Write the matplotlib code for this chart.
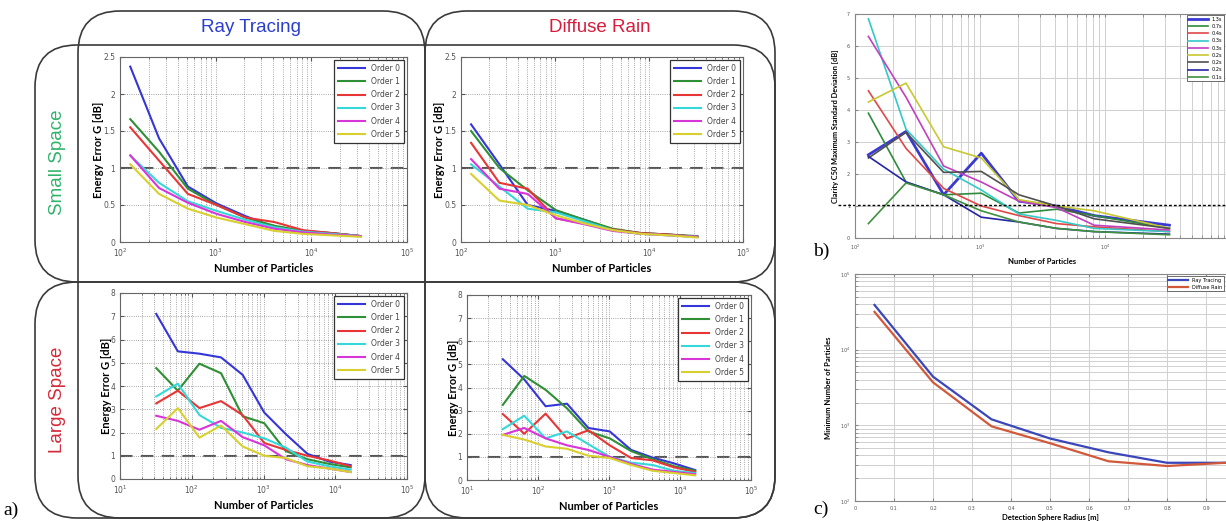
import matplotlib
matplotlib.use("Agg")
import matplotlib.pyplot as plt
from matplotlib.patches import FancyBboxPatch
from matplotlib.ticker import FuncFormatter, LogLocator, MultipleLocator, FixedLocator

# ---------------- data ----------------
orders = ["Order 0", "Order 1", "Order 2", "Order 3", "Order 4", "Order 5"]
order_colors = ["#3535d8", "#2f8f35", "#e83535", "#35d8d8", "#d835d8", "#d8d02e"]

n_small = [128, 256, 512, 1024, 2048, 4096, 8192, 16384, 32768]
n_large = [32, 64, 128, 256, 512, 1024, 2048, 4096, 8192, 16384]

rt_small = [
    [2.37, 1.40, 0.75, 0.52, 0.35, 0.20, 0.15, 0.12, 0.08],
    [1.66, 1.22, 0.72, 0.50, 0.33, 0.22, 0.15, 0.12, 0.08],
    [1.55, 1.10, 0.65, 0.50, 0.33, 0.27, 0.16, 0.12, 0.08],
    [1.17, 0.80, 0.55, 0.42, 0.30, 0.20, 0.14, 0.11, 0.08],
    [1.17, 0.73, 0.53, 0.38, 0.27, 0.18, 0.13, 0.10, 0.08],
    [1.05, 0.65, 0.45, 0.33, 0.24, 0.15, 0.11, 0.09, 0.07],
]
dr_small = [
    [1.59, 1.05, 0.50, 0.42, 0.30, 0.17, 0.12, 0.10, 0.07],
    [1.50, 1.00, 0.70, 0.43, 0.30, 0.18, 0.12, 0.10, 0.08],
    [1.34, 0.80, 0.72, 0.32, 0.25, 0.17, 0.12, 0.10, 0.07],
    [1.05, 0.75, 0.45, 0.40, 0.28, 0.16, 0.11, 0.09, 0.07],
    [1.12, 0.72, 0.65, 0.32, 0.24, 0.15, 0.11, 0.09, 0.07],
    [0.92, 0.56, 0.50, 0.36, 0.25, 0.16, 0.11, 0.09, 0.06],
]
rt_large = [
    [7.10, 5.49, 5.39, 5.23, 4.48, 2.86, 1.93, 1.08, 0.75, 0.60],
    [4.77, 3.80, 4.96, 4.55, 2.70, 2.40, 1.20, 0.85, 0.65, 0.50],
    [3.25, 3.80, 3.05, 3.35, 2.75, 1.55, 1.25, 1.00, 0.80, 0.55],
    [3.55, 4.10, 2.75, 2.20, 2.00, 1.75, 1.35, 0.75, 0.55, 0.40],
    [2.72, 2.50, 2.12, 2.50, 1.80, 1.45, 0.85, 0.60, 0.45, 0.30],
    [2.15, 3.05, 1.78, 2.30, 1.40, 1.00, 0.90, 0.55, 0.45, 0.30],
]
dr_large = [
    [5.22, 4.35, 3.19, 3.30, 2.25, 2.10, 1.30, 0.97, 0.72, 0.43],
    [3.25, 4.50, 3.90, 3.10, 2.10, 1.80, 1.25, 0.90, 0.60, 0.40],
    [2.85, 2.00, 2.87, 1.80, 2.15, 1.50, 0.95, 0.85, 0.55, 0.35],
    [2.20, 2.78, 1.80, 2.10, 1.55, 1.00, 0.75, 0.65, 0.40, 0.30],
    [1.95, 2.25, 1.80, 1.50, 1.30, 1.00, 0.70, 0.45, 0.35, 0.25],
    [1.95, 1.75, 1.45, 1.35, 1.05, 0.95, 0.65, 0.40, 0.30, 0.20],
]

n_clarity = [128, 256, 512, 1024, 2048, 4096, 8192, 32768]
clarity_labels = ["1.3s", "0.7s", "0.4s", "0.3s", "0.3s", "0.2s", "0.2s", "0.2s", "0.1s"]
clarity_colors = ["#3a3ad0", "#2e8b3e", "#e04848", "#35c8c8", "#c040c0",
                  "#c8c830", "#505050", "#2525a5", "#3f8f3f"]
clarity = [
    [2.60, 3.33, 1.35, 2.65, 1.15, 1.00, 0.70, 0.40],
    [3.90, 1.75, 1.35, 1.40, 0.78, 0.90, 0.70, 0.30],
    [4.60, 2.80, 1.55, 1.00, 0.70, 0.45, 0.35, 0.20],
    [6.85, 3.40, 2.15, 1.50, 0.75, 0.55, 0.30, 0.20],
    [6.30, 4.40, 2.25, 1.75, 1.15, 0.95, 0.40, 0.25],
    [4.25, 4.84, 2.85, 2.50, 1.20, 1.00, 0.85, 0.30],
    [2.50, 3.30, 2.05, 2.08, 1.35, 1.00, 0.60, 0.30],
    [2.55, 1.75, 1.35, 0.65, 0.50, 0.30, 0.20, 0.12],
    [0.45, 1.72, 1.35, 0.85, 0.50, 0.30, 0.20, 0.10],
]

radius = [0.05, 0.2, 0.35, 0.5, 0.65, 0.8, 0.95]
min_rt = [39000, 4400, 1200, 670, 440, 320, 320]
min_dr = [31600, 3700, 970, 580, 335, 290, 320]

# ---------------- figure ----------------
W, H = 1226, 521
fig = plt.figure(figsize=(W / 100, H / 100), dpi=100)


def px_axes(x0, y0, x1, y1, **kw):
    return fig.add_axes([x0 / W, 1 - y1 / H, (x1 - x0) / W, (y1 - y0) / H], **kw)


# overlay for boxes and labels
ov = fig.add_axes([0, 0, 1, 1], zorder=-1)
ov.set_xlim(0, W)
ov.set_ylim(H, 0)
ov.axis("off")
box_kw = dict(boxstyle="round,pad=0,rounding_size=42", facecolor="none",
              edgecolor="#3a3a3a", linewidth=1.2)
for (bx, by, bw, bh) in [(78, 11, 347, 507), (425, 11, 350, 507),
                         (35, 45, 740, 237), (35, 282, 740, 236)]:
    ov.add_patch(FancyBboxPatch((bx, by), bw, bh, **box_kw))

ov.text(251, 27, "Ray Tracing", color="#2b3fcc", fontsize=13.5, ha="center", va="center",
        family="Liberation Sans")
ov.text(600, 27, "Diffuse Rain", color="#d81c3e", fontsize=13.5, ha="center", va="center",
        family="Liberation Sans")
ov.text(57, 162, "Small Space", color="#2fb36a", fontsize=13.5, ha="center", va="center",
        rotation=90, family="Liberation Sans")
ov.text(57, 400, "Large Space", color="#d42a3a", fontsize=13.5, ha="center", va="center",
        rotation=90, family="Liberation Sans")
ov.text(3, 510, "a)", fontsize=14, family="Liberation Serif", ha="left", va="center")
ov.text(813, 251, "b)", fontsize=14, family="Liberation Serif", ha="left", va="center")
ov.text(813, 509, "c)", fontsize=14, family="Liberation Serif", ha="left", va="center")

lab_font = dict(family="Lato", fontweight="bold")
gfmt = FuncFormatter(lambda v, p: "{:g}".format(v))


def panel_a(rect, n, data, ymax, xmin):
    ax = px_axes(*rect)
    for vals, lab, col in zip(data, orders, order_colors):
        ax.plot(n, vals, color=col, lw=1.5, label=lab)
    ax.axhline(1.0, color="#555555", ls=(0, (6, 4)), lw=1.5, zorder=1)
    ax.set_xscale("log")
    ax.set_xlim(xmin, 1e5)
    ax.set_ylim(0, ymax)
    ax.yaxis.set_major_formatter(gfmt)
    ax.grid(True, which="both", axis="x", ls=":", color="#8a8a8a", lw=0.6)
    ax.grid(True, which="major", axis="y", ls=":", color="#8a8a8a", lw=0.6)
    ax.tick_params(which="both", direction="in", top=True, right=True,
                   labelsize=5.5, labelcolor="#555555", color="#555555", length=3)
    ax.tick_params(which="minor", length=1.5)
    ax.set_xlabel("Number of Particles", fontsize=8, labelpad=3, **lab_font)
    ax.set_ylabel("Energy Error G [dB]", fontsize=8, labelpad=-1, **lab_font)
    for s in ax.spines.values():
        s.set_color("#666666")
        s.set_linewidth(0.8)
    leg = ax.legend(loc="upper right", fontsize=5.5, handlelength=3.5, labelspacing=0.55,
                    borderpad=0.5, fancybox=False, framealpha=1, borderaxespad=0.4)
    leg.get_frame().set_edgecolor("#333333")
    leg.get_frame().set_linewidth(0.9)
    for t in leg.get_texts():
        t.set_color("#444444")
    return ax


panel_a((120, 57, 407, 242), n_small, rt_small, 2.5, 1e2)
panel_a((461, 57, 743, 242), n_small, dr_small, 2.5, 1e2)
panel_a((120, 293, 407, 479), n_large, rt_large, 8, 1e1)
panel_a((467, 295, 751, 480), n_large, dr_large, 8, 1e1)

# ---------------- panel b ----------------
axb = px_axes(855, 14, 1230, 238)
for i, (vals, lab, col) in enumerate(zip(clarity, clarity_labels, clarity_colors)):
    axb.plot(n_clarity, vals, color=col, lw=2.0 if i == 0 else 1.2, label=lab)
axb.axhline(1.03, xmin=-0.045, xmax=1.0, color="black", ls=(0, (2, 1.5)), lw=1.0,
            clip_on=False)
axb.set_xscale("log")
axb.set_xlim(1e2, 1e5)
axb.set_ylim(0, 7)
axb.xaxis.set_major_locator(FixedLocator([1e2, 1e3, 1e4]))
axb.yaxis.set_major_formatter(gfmt)
axb.grid(True, which="both", axis="x", color="#d0d0d0", lw=0.7)
axb.grid(True, which="major", axis="y", color="#d0d0d0", lw=0.7)
axb.tick_params(which="both", direction="in", top=True, right=True,
                labelsize=3.5, labelcolor="#555555", color="#888888", length=2)
axb.set_xlabel("Number of Particles", fontsize=5.5, labelpad=4, **lab_font)
axb.set_ylabel("Clarity C50 Maximum Standard Deviation [dB]", fontsize=5.3, labelpad=6,
               **lab_font)
for s in axb.spines.values():
    s.set_color("#888888")
    s.set_linewidth(0.8)
legb = axb.legend(loc="upper right", bbox_to_anchor=((1224 - 855) / 375, 0.995),
                  fontsize=3.6, handlelength=4, labelspacing=0.45,
                  borderpad=0.3, fancybox=False, framealpha=1, borderaxespad=0.0)
legb.get_frame().set_edgecolor("#555555")
legb.get_frame().set_linewidth(0.6)

# ---------------- panel c ----------------
axc = px_axes(855, 274, 1245, 501)
axc.plot(radius, min_rt, color="#3b46b8", lw=1.6, label="Ray Tracing")
axc.plot(radius, min_dr, color="#d2583a", lw=1.6, label="Diffuse Rain")
axc.set_yscale("log")
axc.set_xlim(0, 1)
axc.set_ylim(1e2, 1e5)
axc.xaxis.set_major_locator(FixedLocator([0, 0.1, 0.2, 0.3, 0.4, 0.5, 0.6, 0.7, 0.8, 0.9]))
axc.xaxis.set_major_formatter(gfmt)
axc.yaxis.set_major_locator(LogLocator(base=10))
axc.grid(True, which="both", axis="y", color="#d0d0d0", lw=0.7)
axc.grid(True, which="major", axis="x", color="#d0d0d0", lw=0.7)
axc.tick_params(which="both", direction="in", top=True, right=True,
                labelsize=3.5, labelcolor="#555555", color="#888888", length=2)
axc.set_xlabel("Detection Sphere Radius [m]", fontsize=5.5, labelpad=2, **lab_font)
axc.set_ylabel("Minimum Number of Particles", fontsize=5.5, labelpad=6, **lab_font)
for s in axc.spines.values():
    s.set_color("#888888")
    s.set_linewidth(0.8)
legc = axc.legend(loc="upper right", bbox_to_anchor=((1224 - 855) / 390, 0.99),
                  fontsize=3.6, handlelength=4, labelspacing=0.4,
                  borderpad=0.3, fancybox=False, framealpha=1, borderaxespad=0.0)
legc.get_frame().set_edgecolor("#555555")
legc.get_frame().set_linewidth(0.6)

fig.savefig("out.png", dpi=100)
